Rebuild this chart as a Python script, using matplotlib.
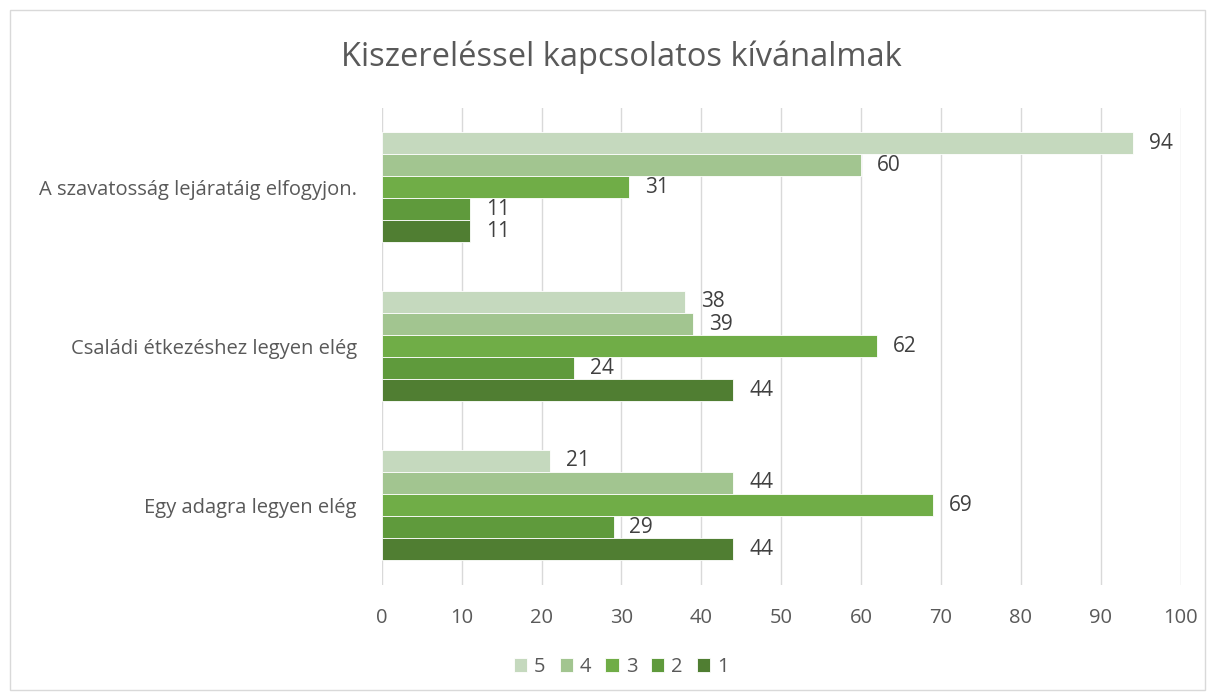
import matplotlib.pyplot as plt
import numpy as np
from matplotlib.patches import Rectangle

categories = ["A szavatosság lejáratáig elfogyjon.", "Családi étkezéshez legyen elég", "Egy adagra legyen elég"]
series_names = ["5", "4", "3", "2", "1"]
values = {
    "5": [94, 38, 21],
    "4": [60, 39, 44],
    "3": [31, 62, 69],
    "2": [11, 24, 29],
    "1": [11, 44, 44],
}
colors = ["#C5D9BE", "#A2C590", "#70AD47", "#5F9A3C", "#507E32"]
text_color = "#595959"

plt.rcParams['font.family'] = ['Open Sans', 'DejaVu Sans']

fig = plt.figure(figsize=(12.16, 7), dpi=100)
ax = fig.add_axes([0.314, 0.165, 0.657, 0.681])

# outer chart border
fig.patches.append(Rectangle((10 / 1216, 10 / 700), 1195 / 1216, 680 / 700, transform=fig.transFigure,
                             fill=False, edgecolor="#D9D9D9", linewidth=1))

y = np.arange(len(categories))
h = 0.139
for i, name in enumerate(series_names):
    offs = (i - 2) * h
    bars = ax.barh(y + offs, values[name], height=h, color=colors[i], label=name,
                   edgecolor="white", linewidth=0.6, zorder=3)
    for b, v in zip(bars, values[name]):
        ax.text(v + 2.0, b.get_y() + b.get_height() / 2, str(v), va="center", ha="left",
                fontsize=15, color="#404040")

ax.set_ylim(2.5, -0.5)
ax.set_xlim(0, 100)
ax.set_xticks(range(0, 101, 10))
ax.set_yticks(y)
ax.set_yticklabels(categories)
ax.tick_params(axis="both", length=0, labelsize=14.5, labelcolor=text_color)
ax.tick_params(axis="y", pad=18)
ax.tick_params(axis="x", pad=17)
ax.grid(axis="x", color="#D9D9D9", linewidth=1, zorder=0)
for s in ax.spines.values():
    s.set_visible(False)

fig.text(0.511, 0.918, "Kiszereléssel kapcsolatos kívánalmak", ha="center", va="center",
         fontsize=23.5, color=text_color)

fig.legend(loc="center", bbox_to_anchor=(0.511, 0.047), ncol=5, frameon=False,
           fontsize=14.5, labelcolor=text_color, handlelength=0.65, handleheight=0.65,
           handletextpad=0.35, columnspacing=0.7)

fig.savefig("out.png", dpi=100)
